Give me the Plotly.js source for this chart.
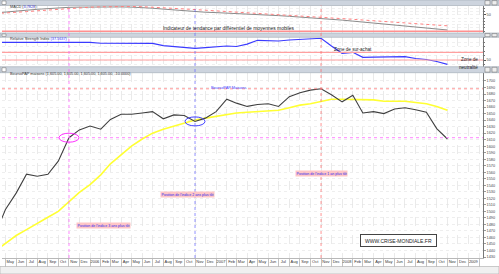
<!DOCTYPE html>
<html><head><meta charset="utf-8">
<script src="https://cdn.plot.ly/plotly-3.0.1.min.js"></script>
<style>html,body{margin:0;padding:0;background:#fff;}#chart{width:499px;height:274px;}</style>
</head><body><div id="chart"></div>
<script>
const months = ['2005-04','2005-05','2005-06','2005-07','2005-08','2005-09','2005-10','2005-11','2005-12',
 '2006-01','2006-02','2006-03','2006-04','2006-05','2006-06','2006-07','2006-08','2006-09','2006-10','2006-11','2006-12',
 '2007-01','2007-02','2007-03','2007-04','2007-05','2007-06','2007-07','2007-08','2007-09','2007-10','2007-11','2007-12',
 '2008-01','2008-02','2008-03','2008-04','2008-05','2008-06','2008-07','2008-08','2008-09','2008-10','2008-11'];
const indexValues = [1464,1503,1528,1557,1554,1557,1577,1613,1625,
 1631,1626,1641,1649,1649,1651,1653,1642,1648,1647,1638,1643,
 1653,1672,1666,1661,1664,1665,1661,1676,1682,1686,1688,1679,
 1668,1678,1651,1653,1650,1657,1659,1656,1652,1627,1611];
const movingAverage = [1439,1451,1463,1472,1482,1491,1500,1514,1529,
 1541,1556,1573,1587,1600,1611,1620,1626,1631,1636,1640,1643,
 1646,1649,1651,1652,1653,1654,1655,1659,1663,1665,1669,1672,
 1672,1672,1672,1671,1669,1669,1669,1667,1665,1661,1655];
const rsiValues = [90,90,90.5,90,90.2,90.3,90,90.2,90,
 90,88,87.9,88,87.8,88,87.9,82.5,80.6,78.6,76.6,78,
 80.4,81.8,80.6,86,94.7,93.8,93.1,95.4,97,98.1,99.3,81.8,
 65.2,67.5,56.1,56.4,56.8,57.3,57.5,53.4,51.1,46.6,40.2];
const macdValues = [56,58.2,61.6,64.7,67.5,69.9,72.1,73.6,74.2,
 74.8,75.2,75.5,74.8,74.2,73.3,70.8,68.1,65.6,62.8,59.3,58.5,
 57.3,56.1,54.8,53.3,51.7,49.9,48,45.9,44,41.9,40,37.3,
 34.2,31.1,28,24.9,21.9,19.1,16,12.9,9.9,6.8,3.78];
const signalValues = [54.2,55.7,57.9,60.4,62.8,65.3,67.8,69.9,72.1,
 73.9,75.2,76.1,76.4,76.1,75.5,74.2,72.7,70.8,69,66.8,64.7,
 62.8,61,59.1,57.3,54.8,53,51.1,49.3,47.4,45.3,43.1,41,
 38.8,36.7,34.5,32.3,30.2,28,25.9,23.7,21.6,19.1,16.6];
const tickMonths = ['2005-04','2005-05','2005-06','2005-07','2005-08','2005-09','2005-10','2005-11','2005-12',
 '2006-01','2006-02','2006-03','2006-04','2006-05','2006-06','2006-07','2006-08','2006-09','2006-10','2006-11','2006-12',
 '2007-01','2007-02','2007-03','2007-04','2007-05','2007-06','2007-07','2007-08','2007-09','2007-10','2007-11','2007-12',
 '2008-01','2008-02','2008-03','2008-04','2008-05','2008-06','2008-07','2008-08','2008-09','2008-10','2008-11','2008-12',
 '2009-01','2009-02'];
const tickLabels = ['Apr','May','Jun','Jul','Aug','Sep','Oct','Nov','Dec',
 '2006','Feb','Mar','Apr','May','Jun','Jul','Aug','Sep','Oct','Nov','Dec',
 '2007','Feb','Mar','Apr','May','Jun','Jul','Aug','Sep','Oct','Nov','Dec',
 '2008','Feb','Mar','Apr','May','Jun','Jul','Aug','Sep','Oct','Nov','Dec',
 '2009','Feb'];
const priceTicks = [1700,1690,1680,1670,1660,1650,1640,1630,1620,1610,1600,1590,1580,1570,1560,
 1550,1540,1530,1520,1510,1500,1490,1480,1470,1460,1450,1440,1430];
const rsiLevels = [67.5, 50];
const markIdx = [7, 19, 31];           // Nov 2005, Nov 2006, Nov 2007
const markColors = ['#ff55ff', '#6666ff', '#ff6666'];

const FONT = 'Liberation Sans, Arial, sans-serif';
const px = v => (v - 2) / 481;          // pixel x -> paper
const py = v => (258 - v) / 258;        // pixel y -> paper

const traces = [
  {x: months, y: macdValues, xaxis: 'x', yaxis: 'y3', mode: 'lines', line: {color: '#8a8a8a', width: 1}},
  {x: months, y: signalValues, xaxis: 'x', yaxis: 'y3', mode: 'lines', line: {color: '#ff8080', width: 1, dash: 'dot'}},
  {x: months, y: rsiValues, xaxis: 'x', yaxis: 'y2', mode: 'lines', line: {color: '#3a3aff', width: 1.2}},
  {x: months, y: movingAverage, xaxis: 'x', yaxis: 'y', mode: 'lines', line: {color: '#ffff33', width: 1.6}},
  {x: months, y: indexValues, xaxis: 'x', yaxis: 'y', mode: 'lines', line: {color: '#404040', width: 1.1}}
];

const shapes = [];
// header bars
[[0, 5.5], [33, 37.3], [66.7, 72.7]].forEach(([a, b]) => {
  shapes.push({type: 'rect', xref: 'paper', yref: 'paper', x0: px(0), x1: px(499), y0: py(b), y1: py(a),
    fillcolor: '#cdd4de', line: {color: '#9ea7b2', width: 0.6}, layer: 'above'});
  shapes.push({type: 'rect', xref: 'paper', yref: 'paper', x0: px(2), x1: px(6), y0: py(b - 1), y1: py(a + 1),
    fillcolor: '#ffffff', line: {color: '#666', width: 0.5}, layer: 'above'});
  shapes.push({type: 'rect', xref: 'paper', yref: 'paper', x0: px(485), x1: px(490), y0: py(b - 0.6), y1: py(a + 0.6),
    fillcolor: '#eeeeee', line: {color: '#666', width: 0.5}, layer: 'above'});
  shapes.push({type: 'rect', xref: 'paper', yref: 'paper', x0: px(492), x1: px(497), y0: py(b - 0.6), y1: py(a + 0.6),
    fillcolor: '#eeeeee', line: {color: '#666', width: 0.5}, layer: 'above'});
});
// scroll bar
shapes.push({type: 'rect', xref: 'paper', yref: 'paper', x0: px(0), x1: px(499), y0: py(274), y1: py(266.5),
  fillcolor: '#f0f0f0', line: {color: '#aaa', width: 0.6}});
// zero line MACD and RSI levels
shapes.push({type: 'line', xref: 'x domain', yref: 'y3', x0: 0, x1: 1, y0: 0, y1: 0, line: {color: '#ff9090', width: 1.5}});
rsiLevels.forEach(l => shapes.push({type: 'line', xref: 'x domain', yref: 'y2', x0: 0, x1: 1, y0: l, y1: l,
  line: {color: '#ffa0a0', width: 1.2}}));
// vertical markers across all panels
markIdx.forEach((i, k) => shapes.push({type: 'line', xref: 'x', yref: 'paper', x0: months[i], x1: months[i],
  y0: 0, y1: py(5.5), line: {color: markColors[k], width: 0.7, dash: 'dot'}}));
// horizontal reference levels in main panel
shapes.push({type: 'line', xref: 'x domain', yref: 'y', x0: 0, x1: 1, y0: indexValues[markIdx[0]], y1: indexValues[markIdx[0]],
  line: {color: '#ff66ff', width: 0.8, dash: 'dot'}});
shapes.push({type: 'line', xref: 'x domain', yref: 'y', x0: 0, x1: 1, y0: indexValues[markIdx[2]], y1: indexValues[markIdx[2]],
  line: {color: '#ff7777', width: 0.8, dash: 'dot'}});
// ellipses
[[0, '#ff33ff'], [1, '#4444ff']].forEach(([k, c]) => {
  const i = markIdx[k];
  shapes.push({type: 'circle', xref: 'x', yref: 'y', xsizemode: 'pixel', ysizemode: 'pixel',
    xanchor: months[i], yanchor: indexValues[i], x0: -10, x1: 10, y0: -4.5, y1: 4.5,
    line: {color: c, width: 1}});
});

const hdr = {family: FONT, size: 3.8, color: '#333'};
const annotations = [
  {text: 'MACD (<span style="color:#3333cc">3.7828</span>)', x: px(8), y: py(2.8), xanchor: 'left', font: hdr},
  {text: 'Relative Strength Index <span style="color:#3333ff">(37.5637)</span>', x: px(8), y: py(35.2), xanchor: 'left', font: hdr},
  {text: 'BoursoPAP maisons (1,605.00, 1,605.00, 1,605.00, 1,605.00, -10.0000)', x: px(8), y: py(69.7), xanchor: 'left', font: hdr},
  {text: 'Indicateur de tendance par différentiel de moyennes mobiles', x: px(161), y: py(24.5), font: {family: FONT, size: 4.9, color: '#222'}},
  {text: 'Zone de sur-achat', x: px(374), y: py(45.5), font: {family: FONT, size: 4.6, color: '#222'}},
  {text: 'Zone de', x: px(459), y: py(54.5), xanchor: 'left', font: {family: FONT, size: 4.6, color: '#222'}},
  {text: 'neutralité', x: px(457), y: py(63), xanchor: 'left', font: {family: FONT, size: 4.6, color: '#222'}},
  {text: 'BoursoPAP Maisons', x: px(228), y: py(82.5), font: {family: FONT, size: 3.9, color: '#4444ff'}},
  {text: "Position de l'indice 3 ans plus tôt", x: px(76), y: py(229), bgcolor: '#ffc6c6', borderpad: 0.5,
    font: {family: FONT, size: 3.6, color: '#2a2aee'}},
  {text: "Position de l'indice 2 ans plus tôt", x: px(187), y: py(198), bgcolor: '#ffc6c6', borderpad: 0.5,
    font: {family: FONT, size: 3.6, color: '#2a2aee'}},
  {text: "Position de l'indice 1 an plus tôt", x: px(321), y: py(177), bgcolor: '#ffc6c6', borderpad: 0.5,
    font: {family: FONT, size: 3.6, color: '#2a2aee'}},
  {text: 'WWW.CRISE-MONDIALE.FR', x: px(436.5), y: py(246.8), width: 72, height: 8, borderpad: 1.5,
    bordercolor: '#444', borderwidth: 1, bgcolor: '#ffffff', font: {family: FONT, size: 5, color: '#222'}}
].map(a => Object.assign({xref: 'paper', yref: 'paper', showarrow: false}, a));

const layout = {
  width: 499, height: 274,
  margin: {l: 2, r: 16, t: 0, b: 16},
  paper_bgcolor: '#ffffff', plot_bgcolor: '#ffffff',
  showlegend: false,
  font: {family: FONT, size: 4, color: '#333'},
  xaxis: {
    type: 'date', range: ['2005-04-21', '2009-02-12'], anchor: 'y',
    tickmode: 'array', tickvals: tickMonths.map(m => m + '-15'), ticktext: tickLabels,
    ticks: '', showgrid: false, tickfont: {family: FONT, size: 4, color: '#333'},
    showline: true, linecolor: '#888', linewidth: 0.6, zeroline: false,
    minor: {tickmode: 'linear', tick0: '2005-01-01', dtick: 'M1', ticks: 'outside', ticklen: 8,
      tickcolor: '#999', tickwidth: 0.6, showgrid: true, gridcolor: '#dcdcdc', griddash: 'dash', gridwidth: 0.6}
  },
  yaxis: {
    domain: [0, py(72.7)], range: [1428.5, 1712.7], side: 'right',
    tickmode: 'array', tickvals: priceTicks, ticktext: priceTicks.map(String),
    ticks: 'outside', ticklen: 2, tickcolor: '#555', tickwidth: 0.6,
    showline: true, linecolor: '#555', linewidth: 0.8,
    showgrid: true, gridcolor: '#e2e2e2', griddash: 'dot', gridwidth: 0.6, zeroline: false,
    tickfont: {family: FONT, size: 3.8, color: '#444'}
  },
  yaxis2: {
    domain: [py(66.7), py(37.3)], range: [34.8, 101.5], side: 'right', anchor: 'x',
    tickmode: 'array', tickvals: [50], ticktext: ['50'],
    ticks: 'outside', ticklen: 2, tickcolor: '#555', showline: true, linecolor: '#555', linewidth: 0.8,
    showgrid: false, zeroline: false, tickfont: {family: FONT, size: 3.8, color: '#444'},
    minor: {tickmode: 'linear', tick0: 0, dtick: 10, ticks: 'outside', ticklen: 1.5, tickcolor: '#777',
      showgrid: true, gridcolor: '#e6e6e6', griddash: 'dot', gridwidth: 0.6}
  },
  yaxis3: {
    domain: [py(33), py(5.5)], range: [-5.5, 79.2], side: 'right', anchor: 'x',
    tickmode: 'array', tickvals: [50], ticktext: ['50'],
    ticks: 'outside', ticklen: 2, tickcolor: '#555', showline: true, linecolor: '#555', linewidth: 0.8,
    showgrid: false, zeroline: false, tickfont: {family: FONT, size: 3.8, color: '#444'},
    minor: {tickmode: 'linear', tick0: 0, dtick: 10, ticks: 'outside', ticklen: 1.5, tickcolor: '#777',
      showgrid: true, gridcolor: '#e6e6e6', griddash: 'dot', gridwidth: 0.6}
  },
  shapes: shapes,
  annotations: annotations
};

Plotly.newPlot('chart', traces, layout, {staticPlot: true, displayModeBar: false});
</script></body></html>
